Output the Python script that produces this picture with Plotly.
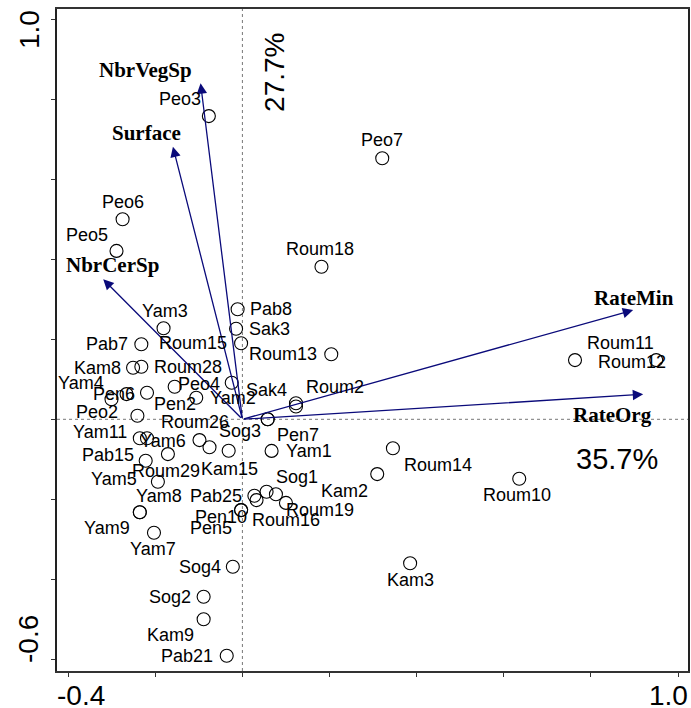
import plotly.graph_objects as go

# ---- site scores (axis 1 = 35.7 %, axis 2 = 27.7 %) ----
site_names = ["Peo3", "Peo7", "Peo6", "Peo5", "Roum18", "Pab8", "Sak3", "Roum15", "Roum13",
              "Roum11", "Roum12", "Sak4", "Peo4", "Yam2", "Pen2", "Pen6", "Yam4", "Peo2",
              "Kam8", "Roum28", "Pab7", "Yam3", "Roum2", "", "Sog3", "Pen7", "Yam1",
              "Roum14", "Kam2", "Roum10", "Kam3", "Sog1", "", "Pab25", "Roum16", "Roum19",
              "Pen10", "Pen5", "Yam11", "Yam6", "Roum29", "Pab15", "Yam5", "Roum26", "",
              "Kam15", "Yam8", "Yam9", "Yam7", "Sog4", "Sog2", "Kam9", "Pab21"]
axis1 = [-0.077, 0.321, -0.275, -0.289, 0.1815, -0.011, -0.0145, -0.003, 0.204,
         0.7635, 0.950, -0.0245, -0.1555, -0.106, -0.219, -0.266, -0.3005, -0.241,
         -0.251, -0.232, -0.232, -0.181, 0.123, 0.123, 0.058, 0.058, 0.067,
         0.3455, 0.3095, 0.6355, 0.385, 0.0555, 0.077, 0.0275, 0.0325, 0.100,
         -0.003, -0.003, -0.2355, -0.219, -0.171, -0.222, -0.194, -0.0985, -0.0755,
         -0.0315, -0.2355, -0.2355, -0.203, -0.022, -0.089, -0.089, -0.036]
axis2 = [0.758, 0.6525, 0.500, 0.421, 0.3815, 0.275, 0.2265, 0.190, 0.1625,
         0.148, 0.148, 0.0915, 0.0815, 0.054, 0.0665, 0.063, 0.050, 0.009,
         0.129, 0.1315, 0.1875, 0.2275, 0.040, 0.032, 0.0, 0.0, -0.079,
         -0.0725, -0.137, -0.1485, -0.360, -0.181, -0.1875, -0.191, -0.202, -0.209,
         -0.227, -0.227, -0.0475, -0.0475, -0.087, -0.1035, -0.156, -0.052, -0.070,
         -0.0785, -0.2325, -0.2325, -0.2835, -0.3685, -0.4435, -0.500, -0.591]

# label offsets (pixels, style only)
label_dx = [-29, 0, 0, -30, -1, 33, 33, -48, -48,
            45, -24, 35, 24, 37, 28, -13, -31, -40,
            -36, 47, -34, 1, 39, 0, -28, 30, 37,
            45, -33, -2, 0, 30, 0, -38, 29, 34,
            -20, -30, -40, 16, -2, -38, -44, -4, 0,
            1, 19, -33, -1, -33, -34, -33, -40]
label_dy = [17, 18, 17, 16, 18, 0, 0, 0, 0,
            17, -2, -7, 3, 0, -11, 0, 16, 4,
            0, 0, 0, 17, 16, 0, -12, -16, 0,
            -17, -17, -16, -17, 15, 0, 0, -20, -7,
            -7, -18, 6, -3, -17, 6, 3, 18, 0,
            -18, 16, -16, -16, 0, 0, -16, 0]

# ---- environmental variables (arrows) ----
var_names = ["NbrVegSp", "Surface", "NbrCerSp", "RateMin", "RateOrg"]
var_axis1 = [-0.096, -0.1595, -0.3195, 0.897, 0.920]
var_axis2 = [0.840, 0.6815, 0.350, 0.273, 0.0625]
var_dx = [-55, -26, 9, 1, -31]
var_dy = [13, 14, 14, 12, -21]

x_ticks = [-0.4, -0.2, 0.0, 0.2, 0.4, 0.6, 0.8, 1.0]
y_ticks = [-0.6, -0.4, -0.2, 0.0, 0.2, 0.4, 0.6, 0.8, 1.0]
axis1_label = "35.7%"
axis2_label = "27.7%"

SANS = "Liberation Sans, Arial, sans-serif"
SERIF = "Liberation Serif, Times New Roman, serif"
NAVY = "#0a0a7a"

fig = go.Figure()
fig.add_trace(go.Scatter(
    x=axis1, y=axis2, mode="markers",
    marker=dict(symbol="circle-open", size=13, color="black", line=dict(width=1.1)),
    hoverinfo="skip", showlegend=False))

annotations = []
# arrows
for vx, vy in zip(var_axis1, var_axis2):
    annotations.append(dict(x=vx, y=vy, ax=0, ay=0, xref="x", yref="y", axref="x", ayref="y",
                            text="", showarrow=True, arrowhead=2, arrowsize=1.6,
                            arrowwidth=1.3, arrowcolor=NAVY, standoff=0))
# variable labels
for name, vx, vy, dx, dy in zip(var_names, var_axis1, var_axis2, var_dx, var_dy):
    annotations.append(dict(x=vx, y=vy, xref="x", yref="y", text="<b>%s</b>" % name,
                            showarrow=False, xshift=dx, yshift=dy,
                            font=dict(family=SERIF, size=21, color="black")))
# site labels
for name, sx, sy, dx, dy in zip(site_names, axis1, axis2, label_dx, label_dy):
    if name:
        annotations.append(dict(x=sx, y=sy, xref="x", yref="y", text=name,
                                showarrow=False, xshift=dx, yshift=dy,
                                font=dict(family=SANS, size=18, color="black")))
# axis percentage labels
annotations.append(dict(x=0.072, y=0.868, xref="x", yref="y", text=axis2_label, textangle=-90,
                        showarrow=False, font=dict(family=SANS, size=28, color="black")))
annotations.append(dict(x=0.860, y=-0.099, xref="x", yref="y", text=axis1_label,
                        showarrow=False, font=dict(family=SANS, size=29, color="black")))
# end tick labels
annotations.append(dict(x=0, y=0, xref="paper", yref="paper", text="%.1f" % x_ticks[0],
                        xanchor="left", yanchor="middle", yshift=-24, xshift=-2, showarrow=False,
                        font=dict(family=SANS, size=28, color="black")))
annotations.append(dict(x=1, y=0, xref="paper", yref="paper", text="%.1f" % x_ticks[-1],
                        xanchor="right", yanchor="middle", yshift=-24, xshift=2, showarrow=False,
                        font=dict(family=SANS, size=28, color="black")))
annotations.append(dict(x=0, y=1, xref="paper", yref="paper", text="%.1f" % y_ticks[-1],
                        textangle=-90, xanchor="center", yanchor="middle", xshift=-28, yshift=-21,
                        showarrow=False, font=dict(family=SANS, size=28, color="black")))
annotations.append(dict(x=0, y=0, xref="paper", yref="paper", text="%.1f" % y_ticks[0],
                        textangle=-90, xanchor="center", yanchor="middle", xshift=-29, yshift=32,
                        showarrow=False, font=dict(family=SANS, size=28, color="black")))

shapes = [
    dict(type="line", xref="x", yref="paper", x0=0, x1=0, y0=0, y1=1,
         line=dict(color="#777777", width=1, dash="dot"), layer="below"),
    dict(type="line", xref="paper", yref="y", x0=0, x1=1, y0=0, y1=0,
         line=dict(color="#777777", width=1, dash="dot"), layer="below"),
]

fig.update_layout(
    width=691, height=708,
    margin=dict(l=57, r=1, t=9, b=37),
    paper_bgcolor="white", plot_bgcolor="white",
    annotations=annotations, shapes=shapes, showlegend=False,
    xaxis=dict(range=[-0.4256, 1.0229], tickvals=x_ticks, showticklabels=False,
               ticks="outside", ticklen=4, tickcolor="#333", showgrid=False, zeroline=False,
               showline=True, linecolor="#333", linewidth=1.5, mirror=True),
    yaxis=dict(range=[-0.6293, 1.0258], tickvals=y_ticks, showticklabels=False,
               ticks="outside", ticklen=4, tickcolor="#333", showgrid=False, zeroline=False,
               showline=True, linecolor="#222", linewidth=1.5, mirror=True),
)

fig.write_html("out.html", config={"displayModeBar": False},
               post_script="document.body.style.margin='0';document.body.style.overflow='hidden';")
